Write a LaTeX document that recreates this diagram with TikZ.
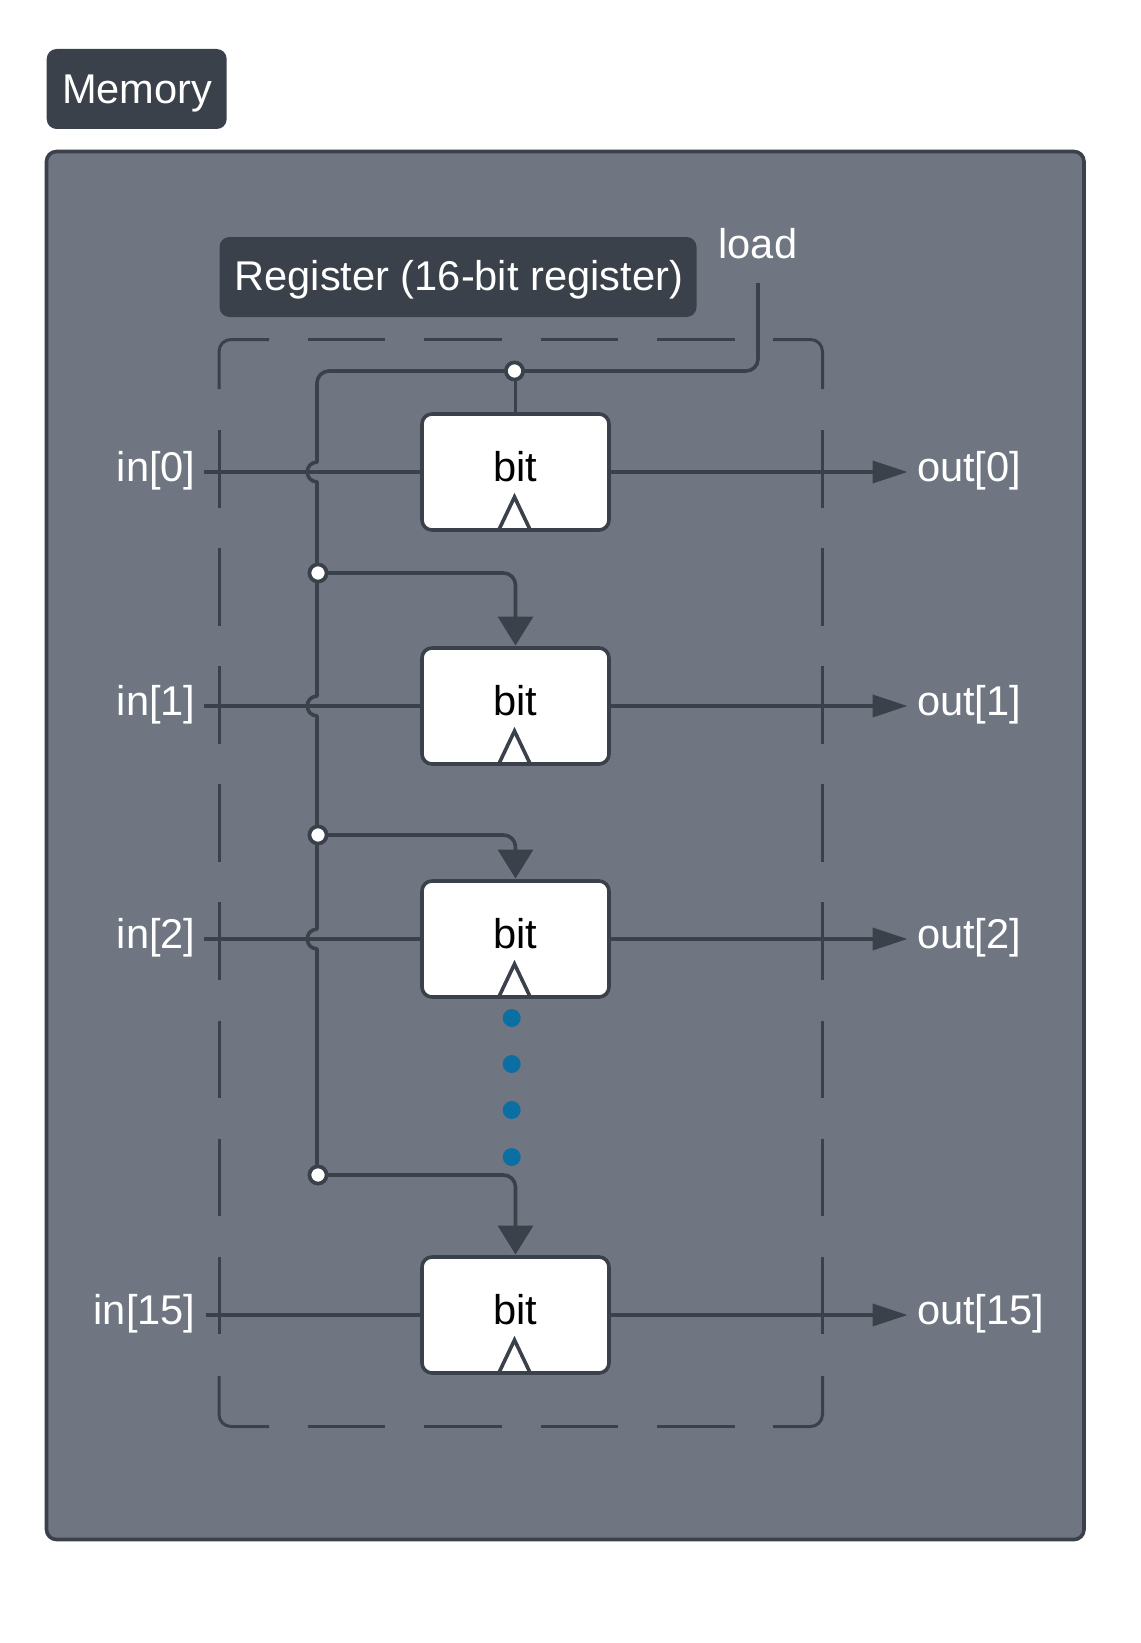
\documentclass[tikz,border=0pt]{standalone}
\usepackage{fontspec}
\setmainfont{Liberation Sans}
\usetikzlibrary{arrows.meta}
\definecolor{ink}{HTML}{3A414A}
\definecolor{panel}{HTML}{6F7681}
\definecolor{dotblue}{HTML}{0B6FA4}
\tikzset{
  x=1pt,y=-1pt,
  wire/.style={draw=ink,line width=3.6pt,line join=round},
  bigpanel/.style={draw=ink,fill=panel,line width=3.6pt,rounded corners=10pt},
  tag/.style={fill=ink,draw=none,rounded corners=10pt,inner sep=0pt},
  bitbox/.style={draw=ink,fill=white,line width=3.6pt,rounded corners=10pt,minimum width=187pt,minimum height=116pt,inner sep=0pt,outer sep=0pt},
  lbl/.style={text=white,font=\fontsize{41.6}{48}\selectfont,inner sep=0pt,outer sep=0pt},
  bitlbl/.style={text=black,font=\fontsize{41.6}{48}\selectfont,inner sep=0pt,outer sep=0pt,anchor=base},
  joint/.style={circle,draw=ink,fill=white,line width=3.6pt,minimum size=17pt,inner sep=0pt,outer sep=0pt},
  vdots/.style={circle,fill=dotblue,draw=none,minimum size=18pt,inner sep=0pt},
  regdash/.style={draw=ink,line width=3pt},
  hdash/.style={regdash,dash pattern=on 77.5pt off 39pt},
  vdash/.style={regdash,dash pattern=on 77.6pt off 40.5pt},
  clock/.style={draw=ink,line width=3.6pt,line join=miter},
  triarrow/.style={-{Triangle[width=35pt,length=29pt,fill=ink]},shorten >=2.5pt},
  outarrow/.style={-{Triangle[width=22pt,length=35pt,fill=ink]}},
}
\begin{document}
\begin{tikzpicture}
\useasboundingbox[fill=white] (0,0) rectangle (1140,1643);
% panel
\node[tag,minimum width=180pt,minimum height=80pt] (memtag) at (136.7,89) {};
\node[lbl,anchor=base west] (memtext) at (62,104) {Memory};
\path[bigpanel] (46.5,151.5) rectangle (1084,1539.5);
\node[tag,minimum width=477pt,minimum height=80pt] (regtag) at (458,277) {};
\node[lbl,anchor=base west] (regtext) at (234.5,290) {Register (16-bit register)};
\node[lbl,anchor=base west] (loadtext) at (718.5,258) {load};
% dashed register frame
\draw[regdash,rounded corners=12pt] (219,389) |- (269,339.5);
\draw[regdash,rounded corners=12pt] (773,339.5) -| (822.5,389);
\draw[regdash,rounded corners=12pt] (219,1376) |- (269,1426.5);
\draw[regdash,rounded corners=12pt] (773,1426.5) -| (822.5,1376);
\draw[hdash] (307.5,339.5) -- (735,339.5);
\draw[hdash] (307.5,1426.5) -- (735,1426.5);
\draw[vdash] (219,430) -- (219,1336);
\draw[vdash] (822.5,430) -- (822.5,1336);
% bit cells
\node[bitbox] (b0) at (515.5,472) {};
\node[bitbox] (b1) at (515.5,706) {};
\node[bitbox] (b2) at (515.5,939) {};
\node[bitbox] (b3) at (515.5,1315) {};
% coordinates
\coordinate (in0) at (204,472);
\coordinate (in1) at (204,706);
\coordinate (in2) at (204,939);
\coordinate (in3) at (206,1315);
\coordinate (out0) at (907.5,472);
\coordinate (out1) at (907.5,706);
\coordinate (out2) at (907.5,939);
\coordinate (out3) at (907.5,1315);
\coordinate (loadend) at (758,283);
% data lines
\foreach \i in {0,1,2,3}{
  \draw[wire] (in\i) -- (b\i.west);
  \draw[wire,outarrow] (b\i.east) -- (out\i);
}
% joints
\node[joint] (jt) at (514.5,371) {};
\node[joint] (j1) at (318,573) {};
\node[joint] (j2) at (318,835) {};
\node[joint] (j3) at (318,1175) {};
% load bus with hops over the data lines
\draw[wire,rounded corners=12pt] (loadend) |- (317,371) -- (317,400);
\draw[wire] (317,395) -- (317,462)
  .. controls (304,463) and (304,481) .. (317,482)
  -- (317,696)
  .. controls (304,697) and (304,715) .. (317,716)
  -- (317,929)
  .. controls (304,930) and (304,948) .. (317,949)
  -- (317,1175);
\draw[wire] (jt -| b0.north) -- (b0.north);
\draw[wire,rounded corners=12pt,triarrow] (j1) -| (b1.north);
\draw[wire,rounded corners=12pt,triarrow] (j2) -| (b2.north);
\draw[wire,rounded corners=12pt,triarrow] (j3) -| (b3.north);
\node[joint] at (jt) {};
\node[joint] at (j1) {};
\node[joint] at (j2) {};
\node[joint] at (j3) {};
% clock marks
\foreach \i in {0,1,2,3}{
  \draw[clock,shift={(b\i.south)}] (-16,-1.5) -- (-1,-33) -- (14,-1.5);
}
% bit labels
\node[bitlbl] (t0) at (515.5,481) {bit};
\node[bitlbl] (t1) at (515.5,715) {bit};
\node[bitlbl] (t2) at (515.5,948) {bit};
\node[bitlbl] (t3) at (515.5,1324) {bit};
% ellipsis dots
\node[vdots] (d1) at (511.7,1018) {};
\node[vdots] (d2) at (511.7,1064) {};
\node[vdots] (d3) at (511.7,1110) {};
\node[vdots] (d4) at (511.7,1157) {};
% port labels
\node[lbl,anchor=base east] (il0) at (195.5,481) {in[0]};
\node[lbl,anchor=base east] (il1) at (195.5,715) {in[1]};
\node[lbl,anchor=base east] (il2) at (195.5,948) {in[2]};
\node[lbl,anchor=base east] (il3) at (195.5,1324) {in[15]};
\node[lbl,anchor=base west] (ol0) at (917,481) {out[0]};
\node[lbl,anchor=base west] (ol1) at (917,715) {out[1]};
\node[lbl,anchor=base west] (ol2) at (917,948) {out[2]};
\node[lbl,anchor=base west] (ol3) at (917,1324) {out[15]};
\end{tikzpicture}
\end{document}
